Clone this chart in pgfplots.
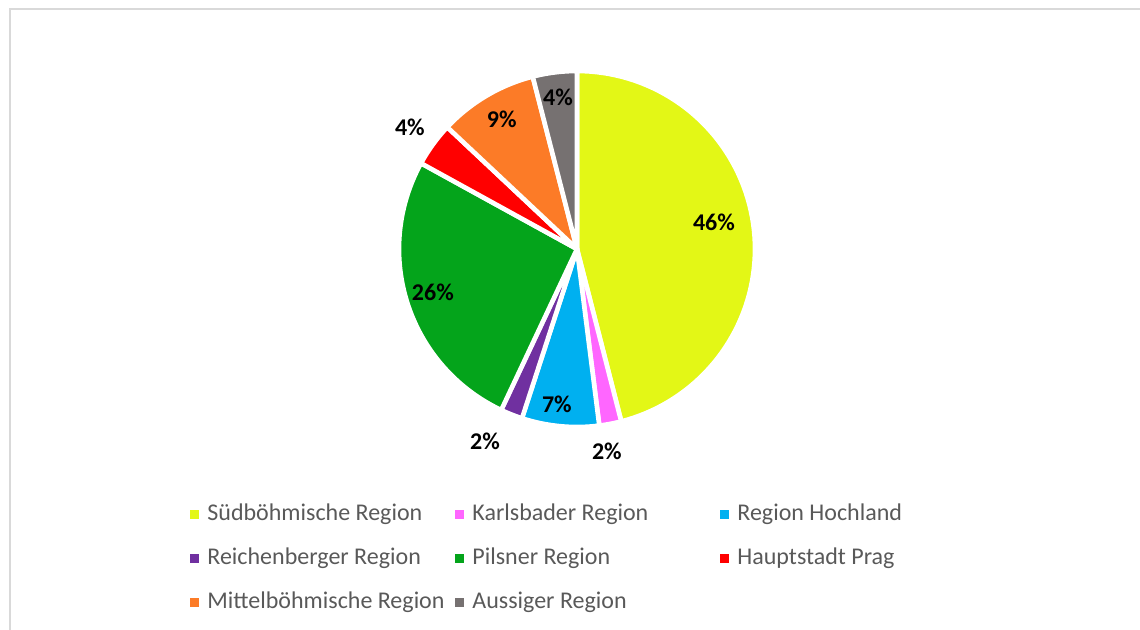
\documentclass[border=0pt]{standalone}
\usepackage{fontspec}
\setmainfont{Carlito}
\usepackage{pgfplots}
\pgfplotsset{compat=1.18}
\usepgfplotslibrary{polar}
\definecolor{cSued}{HTML}{E3F716}
\definecolor{cKarl}{HTML}{FF66FF}
\definecolor{cHoch}{HTML}{00B0F0}
\definecolor{cReich}{HTML}{7030A0}
\definecolor{cPils}{HTML}{04A41B}
\definecolor{cPrag}{HTML}{FF0000}
\definecolor{cMitt}{HTML}{FC7B27}
\definecolor{cAuss}{HTML}{767171}
\definecolor{inkLegend}{HTML}{595959}
\definecolor{frameGray}{HTML}{D9D9D9}

% one slice: start and end given as cumulative percent, clockwise from 12 o'clock
\newcommand{\pieslice}[4]{%
  \addplot[fill=#3, draw=white, line width=2.3pt, line join=round,
           domain={90-3.6*#2}:{90-3.6*#1}, samples=80] {1} -- (axis cs:0,0) -- cycle;
  \addlegendentry{\makebox[124pt][l]{#4}}}

\begin{document}
\begin{tikzpicture}
\useasboundingbox (0,0) rectangle (570pt,-315pt);
\draw[frameGray, line width=1pt] (4.75pt,-316pt) -- (4.75pt,-4.75pt) -- (571pt,-4.75pt);
\begin{polaraxis}[
    at={(288.5pt,-124.5pt)}, anchor=origin,
    scale only axis, width=178pt, height=178pt,
    hide axis, ymin=0, ymax=1, clip=false,
    legend columns=3,
    legend style={at={(-0.587,-0.2163)}, anchor=north west, draw=none, fill=none,
      inner sep=0pt, row sep=11.5pt,
      font=\fontsize{12}{14}\selectfont, text=inkLegend,
      nodes={inner sep=0pt, text height=8pt, text depth=2.5pt},
      /tikz/every odd column/.append style={column sep=4pt}},
    legend image code/.code={\fill[#1, draw=none] (0pt,-2.25pt) rectangle (4.5pt,2.25pt);},
  ]
  \pieslice{0}{46}{cSued}{Südböhmische Region}
  \pieslice{46}{48}{cKarl}{Karlsbader Region}
  \pieslice{48}{55}{cHoch}{Region Hochland}
  \pieslice{55}{57}{cReich}{Reichenberger Region}
  \pieslice{57}{83}{cPils}{Pilsner Region}
  \pieslice{83}{87}{cPrag}{Hauptstadt Prag}
  \pieslice{87}{96}{cMitt}{Mittelböhmische Region}
  \pieslice{96}{100}{cAuss}{Aussiger Region}
  \begin{scope}[every node/.style={font=\bfseries\fontsize{12}{14}\selectfont, text=black}]
  \node at (axis cs:11.1,0.784) {46\%};
  \node at (axis cs:-81.6,1.148) {2\%};
  \node at (axis cs:-97.4,0.878) {7\%};
  \node at (axis cs:-115.6,1.196) {2\%};
  \node at (axis cs:196.6,0.845) {26\%};
  \node at (axis cs:143.9,1.162) {4\%};
  \node at (axis cs:120.2,0.84) {9\%};
  \node at (axis cs:97.1,0.861) {4\%};
  \end{scope}
\end{polaraxis}
\end{tikzpicture}
\end{document}
